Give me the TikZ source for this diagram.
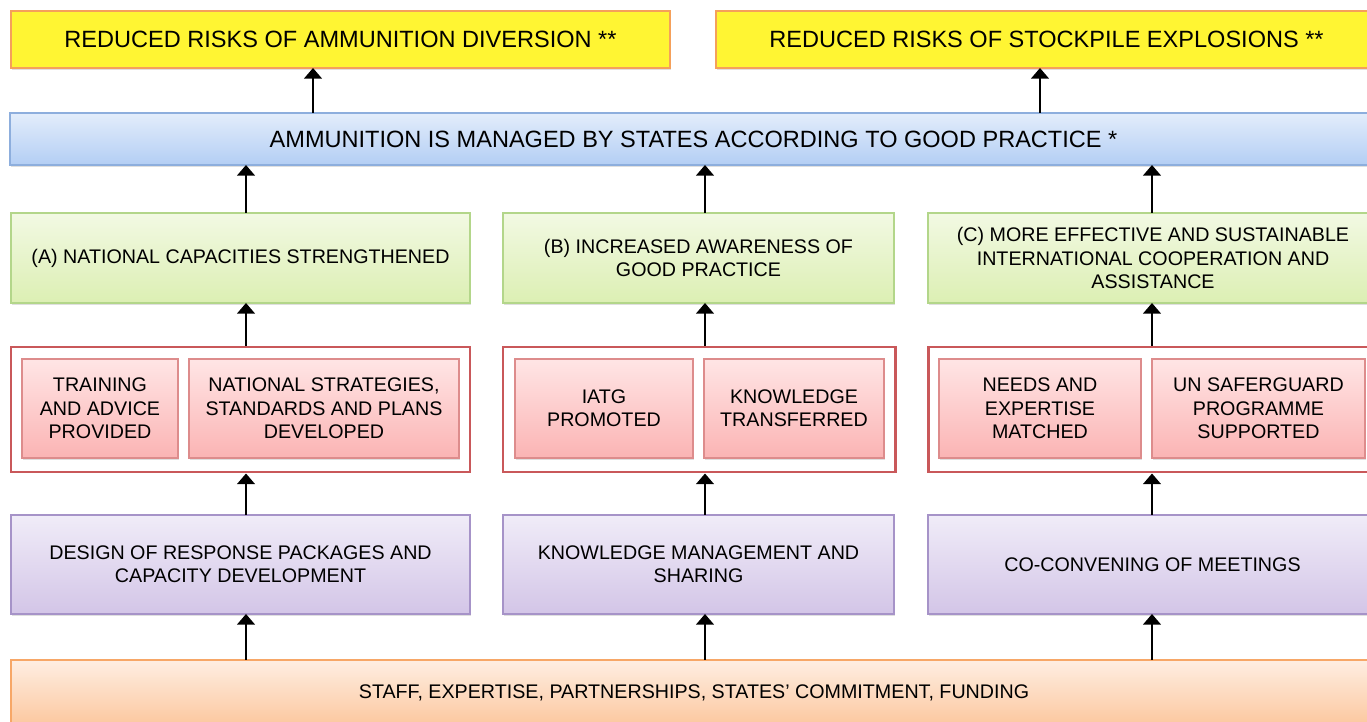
\documentclass[tikz,border=0pt]{standalone}
\usepackage{fontspec}
\setmainfont{Liberation Sans}
\usetikzlibrary{arrows.meta,shadows}

\definecolor{yelfill}{HTML}{FFF533}
\definecolor{yeldraw}{HTML}{F5A05A}
\definecolor{blutop}{HTML}{E3EDFB}
\definecolor{blubot}{HTML}{B3CEF4}
\definecolor{bludraw}{HTML}{8DAEDD}
\definecolor{grntop}{HTML}{F2F9E3}
\definecolor{grnbot}{HTML}{DCEFB3}
\definecolor{grndraw}{HTML}{B3D68A}
\definecolor{redtop}{HTML}{FFE5E5}
\definecolor{redbot}{HTML}{FBB4B4}
\definecolor{reddraw}{HTML}{DD8C8C}
\definecolor{outdraw}{HTML}{C9585A}
\definecolor{purtop}{HTML}{F0ECF8}
\definecolor{purbot}{HTML}{D3C5E7}
\definecolor{purdraw}{HTML}{A693C8}
\definecolor{orgtop}{HTML}{FEEEE2}
\definecolor{orgbot}{HTML}{FCC79E}
\definecolor{orgdraw}{HTML}{F7A767}

\begin{document}
\begin{tikzpicture}[x=0.02cm, y=-0.02cm,
    sz/.style 2 args={minimum width=#1*0.02cm, minimum height=#2*0.02cm},
    box/.style={inner sep=0pt, outer sep=0pt, line width=0.8pt, align=center,
      font=\fontsize{11.2}{13.3}\selectfont,
      drop shadow={opacity=0.25, shadow xshift=0.8pt, shadow yshift=-1.2pt}},
    yelbox/.style={box, draw=yeldraw, fill=yelfill, font=\fontsize{13.4}{15}\selectfont},
    blubox/.style={box, draw=bludraw, top color=blutop, bottom color=blubot, font=\fontsize{13.4}{15}\selectfont},
    grnbox/.style={box, draw=grndraw, top color=grntop, bottom color=grnbot},
    redbox/.style={box, draw=reddraw, top color=redtop, bottom color=redbot},
    outbox/.style={inner sep=0pt, draw=outdraw, line width=1.7pt, fill=white},
    purbox/.style={box, draw=purdraw, top color=purtop, bottom color=purbot},
    orgbox/.style={box, draw=orgdraw, top color=orgtop, bottom color=orgbot},
    arr/.style={-{Triangle[width=10pt, length=6pt]}, line width=1.1pt}]
\useasboundingbox (0,0) rectangle (1367,722);

% columns of the arrows
\coordinate (divX) at (313,0);
\coordinate (expX) at (1040,0);
\coordinate (colA) at (246,0);
\coordinate (colB) at (705,0);
\coordinate (colC) at (1152,0);

% impact
\node[yelbox, sz={659}{57}] (divert) at (340.5,39.5) {REDUCED RISKS OF AMMUNITION DIVERSION **};
\node[yelbox, sz={661}{57}] (explode) at (1046.5,39.5) {REDUCED RISKS OF STOCKPILE EXPLOSIONS **};

% outcome
\node[blubox, sz={1367}{52}] (manage) at (693.5,139) {AMMUNITION IS MANAGED BY STATES ACCORDING TO GOOD PRACTICE *};

% intermediate outcomes
\node[grnbox, sz={459}{90}] (capA) at (240.5,258) {(A) NATIONAL CAPACITIES STRENGTHENED};
\node[grnbox, sz={391}{90}] (capB) at (698.5,258) {(B) INCREASED AWARENESS OF\\GOOD PRACTICE};
\node[grnbox, sz={450}{90}] (capC) at (1153,258) {(C) MORE EFFECTIVE AND SUSTAINABLE\\INTERNATIONAL COOPERATION AND\\ASSISTANCE};

% outputs
\node[outbox, sz={459}{125}] (outA) at (240.5,409.5) {};
\node[outbox, sz={392}{125}] (outB) at (699,409.5) {};
\node[outbox, sz={449}{125}] (outC) at (1152.5,409.5) {};
\node[redbox, sz={156}{99}] (train) at (100,408.5) {TRAINING\\AND ADVICE\\PROVIDED};
\node[redbox, sz={270}{99}] (plans) at (324,408.5) {NATIONAL STRATEGIES,\\STANDARDS AND PLANS\\DEVELOPED};
\node[redbox, sz={178}{99}] (iatg) at (604,408.5) {IATG\\PROMOTED};
\node[redbox, sz={180}{99}] (transfer) at (794,408.5) {KNOWLEDGE\\TRANSFERRED};
\node[redbox, sz={202}{99}] (needs) at (1040,408.5) {NEEDS AND\\EXPERTISE\\MATCHED};
\node[redbox, sz={213}{99}] (safer) at (1258.5,408.5) {UN SAFERGUARD\\PROGRAMME\\SUPPORTED};

% activities
\node[purbox, sz={459}{99}] (actA) at (240.5,564.5) {DESIGN OF RESPONSE PACKAGES AND\\CAPACITY DEVELOPMENT};
\node[purbox, sz={391}{99}] (actB) at (698.5,564.5) {KNOWLEDGE MANAGEMENT AND\\SHARING};
\node[purbox, sz={449}{99}] (actC) at (1152.5,564.5) {CO-CONVENING OF MEETINGS};

% inputs
\node[orgbox, sz={1366}{66}] (inputs) at (694,693) {STAFF, EXPERTISE, PARTNERSHIPS, STATES’ COMMITMENT, FUNDING};

% arrows
\draw[arr] (manage.north -| divX) -- (divert.south -| divX);
\draw[arr] (manage.north -| expX) -- (explode.south -| expX);
\draw[arr] (capA.north -| colA) -- (manage.south -| colA);
\draw[arr] (capB.north -| colB) -- (manage.south -| colB);
\draw[arr] (capC.north -| colC) -- (manage.south -| colC);
\draw[arr] (outA.north -| colA) -- (capA.south -| colA);
\draw[arr] (outB.north -| colB) -- (capB.south -| colB);
\draw[arr] (outC.north -| colC) -- (capC.south -| colC);
\draw[arr] (actA.north -| colA) -- (outA.south -| colA);
\draw[arr] (actB.north -| colB) -- (outB.south -| colB);
\draw[arr] (actC.north -| colC) -- (outC.south -| colC);
\draw[arr] (inputs.north -| colA) -- (actA.south -| colA);
\draw[arr] (inputs.north -| colB) -- (actB.south -| colB);
\draw[arr] (inputs.north -| colC) -- (actC.south -| colC);
\end{tikzpicture}
\end{document}
